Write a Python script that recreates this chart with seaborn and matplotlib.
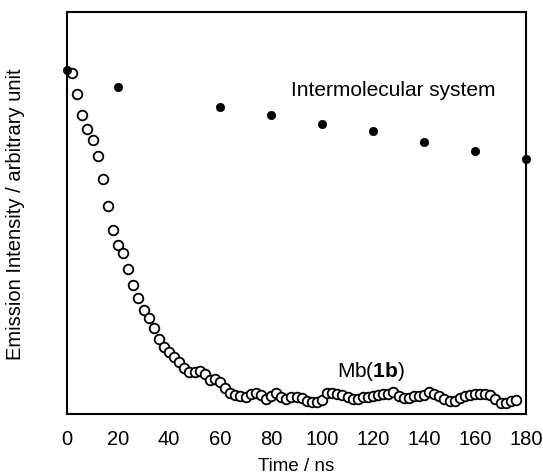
import numpy as np
import pandas as pd
import matplotlib
matplotlib.use("Agg")
import matplotlib.pyplot as plt
import seaborn as sns

# Mb(1b) decay, open circles, every 2 ns (arbitrary units)
mb_time = list(range(2, 178, 2))
mb_intensity = [341, 320, 299, 285, 274, 258, 235, 208, 184, 169,
                161, 145, 129, 116, 104, 96, 86, 75, 67, 62,
                57, 52, 46, 42, 42, 43, 40, 34, 35, 32,
                26, 21, 19, 18, 17, 20, 21, 19, 15, 18,
                21, 17, 15, 17, 17, 16, 13, 12, 12, 14,
                21, 21, 20, 19, 17, 15, 15, 17, 17, 18,
                19, 20, 20, 22, 18, 16, 16, 18, 18, 19,
                22, 20, 18, 15, 13, 13, 16, 18, 19, 20,
                20, 20, 19, 15, 11, 11, 13, 14]

# intermolecular system, filled circles
inter_time = [0, 20, 60, 80, 100, 120, 140, 160, 180]
inter_intensity = [344, 327, 307, 299, 290, 283, 272, 263, 255]

x_ticks = [0, 20, 40, 60, 80, 100, 120, 140, 160, 180]

sns.set_style("white")
plt.rcParams['font.family'] = ['Liberation Sans', 'DejaVu Sans']
plt.rcParams['mathtext.fontset'] = 'custom'
plt.rcParams['mathtext.rm'] = 'Liberation Sans'
plt.rcParams['mathtext.bf'] = 'Liberation Sans:bold'
plt.rcParams['text.color'] = 'black'
plt.rcParams['axes.labelcolor'] = 'black'
plt.rcParams['xtick.color'] = 'black'

mb = pd.DataFrame({"time": mb_time[:len(mb_intensity)], "intensity": mb_intensity})
inter = pd.DataFrame({"time": inter_time, "intensity": inter_intensity})

fig = plt.figure(figsize=(5.43, 4.77), dpi=100)
ax = fig.add_axes([67 / 543, 1 - 415 / 477, (526 - 67) / 543, (415 - 13) / 477])

sns.scatterplot(data=mb, x="time", y="intensity", ax=ax, s=48,
                facecolor="white", edgecolor="black", linewidth=1.3,
                clip_on=False, zorder=3)
sns.scatterplot(data=inter, x="time", y="intensity", ax=ax, s=36,
                color="black", edgecolor="black", linewidth=0.5,
                clip_on=False, zorder=4)

ax.set_xlim(0, 180)
ax.set_ylim(0, 402)
ax.set_xticks(x_ticks)
ax.set_yticks([])
ax.tick_params(axis="x", direction="in", length=7, width=1.3,
               labelsize=14.5, pad=11, top=False)
for sp in ax.spines.values():
    sp.set_linewidth(1.5)
    sp.set_color("black")

ax.set_xlabel("Time / ns", fontsize=13.5, labelpad=6)
ax.set_ylabel("Emission Intensity / arbitrary unit", fontsize=14.5, labelpad=30)

ax.text(88, 324, "Intermolecular system", fontsize=15, va="center")
ax.text(106, 43, r"Mb($\mathbf{1b}$)", fontsize=15, va="center")

fig.savefig("out.png", dpi=100)
